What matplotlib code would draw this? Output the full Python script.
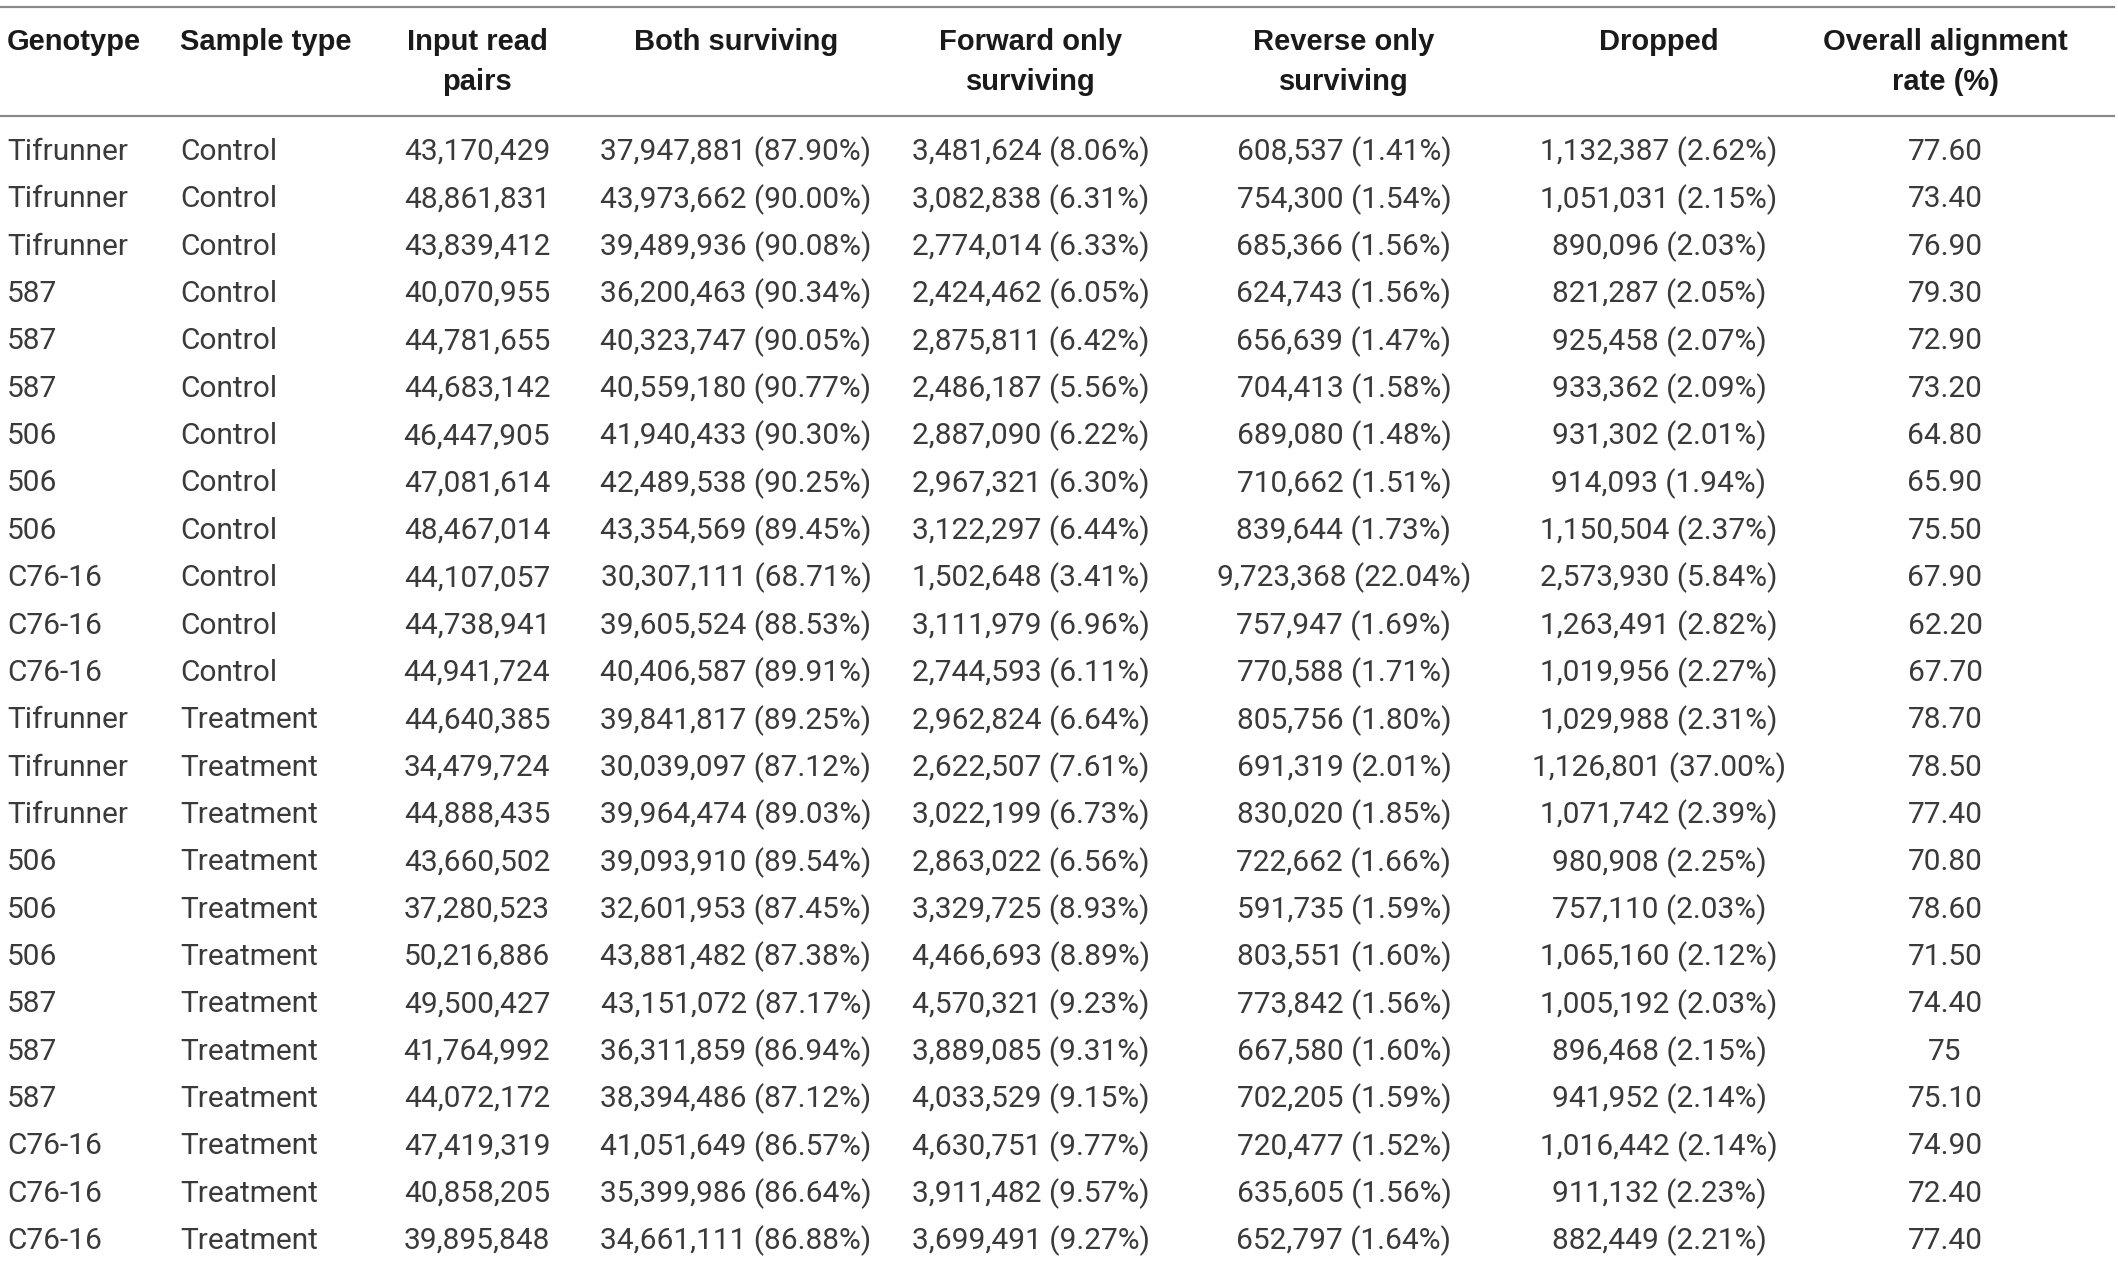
import matplotlib
matplotlib.use("Agg")
import matplotlib.pyplot as plt

# table values
genotype = ["Tifrunner", "Tifrunner", "Tifrunner", "587", "587", "587", "506", "506", "506",
            "C76-16", "C76-16", "C76-16", "Tifrunner", "Tifrunner", "Tifrunner", "506", "506", "506",
            "587", "587", "587", "C76-16", "C76-16", "C76-16"]
sample_type = ["Control"] * 12 + ["Treatment"] * 12
input_pairs = [43170429, 48861831, 43839412, 40070955, 44781655, 44683142, 46447905, 47081614,
               48467014, 44107057, 44738941, 44941724, 44640385, 34479724, 44888435, 43660502,
               37280523, 50216886, 49500427, 41764992, 44072172, 47419319, 40858205, 39895848]
both = [37947881, 43973662, 39489936, 36200463, 40323747, 40559180, 41940433, 42489538,
        43354569, 30307111, 39605524, 40406587, 39841817, 30039097, 39964474, 39093910,
        32601953, 43881482, 43151072, 36311859, 38394486, 41051649, 35399986, 34661111]
both_pct = [87.90, 90.00, 90.08, 90.34, 90.05, 90.77, 90.30, 90.25, 89.45, 68.71, 88.53, 89.91,
            89.25, 87.12, 89.03, 89.54, 87.45, 87.38, 87.17, 86.94, 87.12, 86.57, 86.64, 86.88]
forward = [3481624, 3082838, 2774014, 2424462, 2875811, 2486187, 2887090, 2967321, 3122297,
           1502648, 3111979, 2744593, 2962824, 2622507, 3022199, 2863022, 3329725, 4466693,
           4570321, 3889085, 4033529, 4630751, 3911482, 3699491]
forward_pct = [8.06, 6.31, 6.33, 6.05, 6.42, 5.56, 6.22, 6.30, 6.44, 3.41, 6.96, 6.11,
               6.64, 7.61, 6.73, 6.56, 8.93, 8.89, 9.23, 9.31, 9.15, 9.77, 9.57, 9.27]
reverse = [608537, 754300, 685366, 624743, 656639, 704413, 689080, 710662, 839644, 9723368,
           757947, 770588, 805756, 691319, 830020, 722662, 591735, 803551, 773842, 667580,
           702205, 720477, 635605, 652797]
reverse_pct = [1.41, 1.54, 1.56, 1.56, 1.47, 1.58, 1.48, 1.51, 1.73, 22.04, 1.69, 1.71,
               1.80, 2.01, 1.85, 1.66, 1.59, 1.60, 1.56, 1.60, 1.59, 1.52, 1.56, 1.64]
dropped = [1132387, 1051031, 890096, 821287, 925458, 933362, 931302, 914093, 1150504, 2573930,
           1263491, 1019956, 1029988, 1126801, 1071742, 980908, 757110, 1065160, 1005192, 896468,
           941952, 1016442, 911132, 882449]
dropped_pct = [2.62, 2.15, 2.03, 2.05, 2.07, 2.09, 2.01, 1.94, 2.37, 5.84, 2.82, 2.27,
               2.31, 37.00, 2.39, 2.25, 2.03, 2.12, 2.03, 2.15, 2.14, 2.14, 2.23, 2.21]
align_rate = ["77.60", "73.40", "76.90", "79.30", "72.90", "73.20", "64.80", "65.90", "75.50",
              "67.90", "62.20", "67.70", "78.70", "78.50", "77.40", "70.80", "78.60", "71.50",
              "74.40", "75", "75.10", "74.90", "72.40", "77.40"]

headers = ["Genotype", "Sample type", "Input read\npairs", "Both surviving", "Forward only\nsurviving",
           "Reverse only\nsurviving", "Dropped", "Overall alignment\nrate (%)"]

W, H = 2118, 1261
fig = plt.figure(figsize=(W / 100, H / 100), dpi=100)
ax = fig.add_axes([0, 0, 1, 1])
ax.set_xlim(0, W)
ax.set_ylim(H, 0)
ax.axis("off")

col_x = [7, 180, 477, 736, 1031, 1344, 1659, 1945]
col_ha = ["left", "left", "center", "center", "center", "center", "center", "center"]
body_font = "Roboto"
head_font = "Liberation Sans"

# rules
ax.plot([0, 2114], [7, 7], color="#8a8a8a", lw=1.6)
ax.plot([0, 2114], [116, 116], color="#8a8a8a", lw=1.6)

# header, one text per line so single-line headers sit on the first line
for x, ha, h in zip(col_x, col_ha, headers):
    for j, line in enumerate(h.split("\n")):
        ax.text(x, 42 + 40 * j, line, ha=ha, va="center", fontsize=21, fontweight="bold",
                family=head_font, color="#1a1a1a")

def fmt(v, p):
    return f"{v:,} ({p:.2f}%)"

row_y0, row_dy = 152, 47.35
for i in range(len(genotype)):
    y = row_y0 + i * row_dy
    cells = [genotype[i], sample_type[i], f"{input_pairs[i]:,}",
             fmt(both[i], both_pct[i]), fmt(forward[i], forward_pct[i]),
             fmt(reverse[i], reverse_pct[i]), fmt(dropped[i], dropped_pct[i]), align_rate[i]]
    for x, ha, c in zip(col_x, col_ha, cells):
        ax.text(x, y, c, ha=ha, va="center", fontsize=21.5, family=body_font,
                fontweight="normal", color="#3a3a3a")

fig.savefig("out.png", dpi=100)
